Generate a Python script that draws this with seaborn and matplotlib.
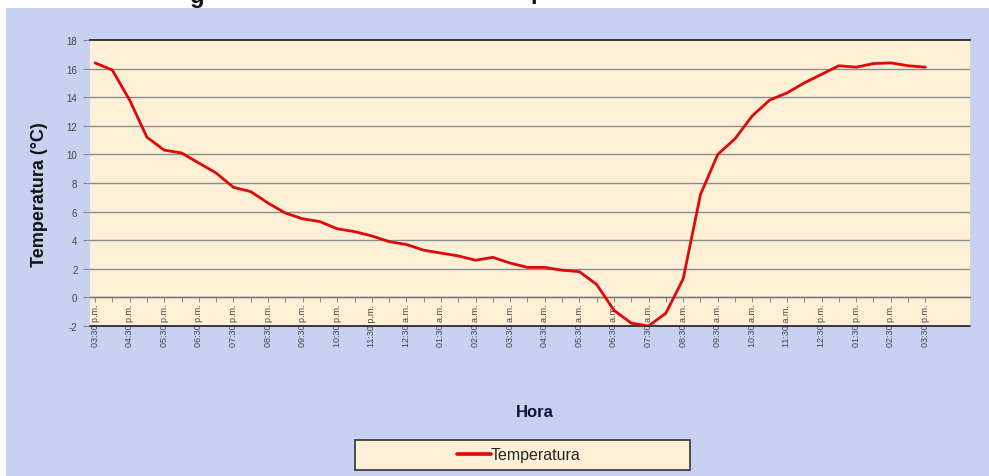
import numpy as np
import pandas as pd
import matplotlib
matplotlib.use("Agg")
import matplotlib.pyplot as plt
from matplotlib.patches import Rectangle
from matplotlib.lines import Line2D
import seaborn as sns

# ---- data ----
hour_labels = ["03:30 p.m.", "04:30 p.m.", "05:30 p.m.", "06:30 p.m.", "07:30 p.m.",
               "08:30 p.m.", "09:30 p.m.", "10:30 p.m.", "11:30 p.m.", "12:30 a.m.",
               "01:30 a.m.", "02:30 a.m.", "03:30 a.m.", "04:30 a.m.", "05:30 a.m.",
               "06:30 a.m.", "07:30 a.m.", "08:30 a.m.", "09:30 a.m.", "10:30 a.m.",
               "11:30 a.m.", "12:30 p.m.", "01:30 p.m.", "02:30 p.m.", "03:30 p.m."]
# half-hourly readings (hours elapsed since 03:30 p.m.)
elapsed_hours = [0.0, 0.5, 1.0, 1.5, 2.0, 2.5, 3.0, 3.5, 4.0, 4.5, 5.0, 5.5, 6.0, 6.5,
                 7.0, 7.5, 8.0, 8.5, 9.0, 9.5, 10.0, 10.5, 11.0, 11.5, 12.0, 12.5,
                 13.0, 13.5, 14.0, 14.5, 15.0, 15.5, 16.0, 16.5, 17.0, 17.5, 18.0,
                 18.5, 19.0, 19.5, 20.0, 20.5, 21.0, 21.5, 22.0, 22.5, 23.0, 23.5, 24.0]
temperatura = [16.4, 15.9, 13.8, 11.2, 10.3, 10.1, 9.4, 8.7, 7.7, 7.4, 6.6, 5.9, 5.5,
               5.3, 4.8, 4.6, 4.3, 3.9, 3.7, 3.3, 3.1, 2.9, 2.6, 2.8, 2.4, 2.1, 2.1,
               1.9, 1.8, 0.9, -0.9, -1.8, -2.0, -1.1, 1.3, 7.2, 10.0, 11.1, 12.7,
               13.8, 14.3, 15.0, 15.6, 16.2, 16.1, 16.35, 16.4, 16.2, 16.1]
y_ticks = [-2, 0, 2, 4, 6, 8, 10, 12, 14, 16, 18]

df = pd.DataFrame({"Hora": elapsed_hours, "Temperatura": temperatura})

sns.set_style("white")
plt.rcParams["font.family"] = ["Liberation Sans", "DejaVu Sans"]

W, H = 989, 477
fig = plt.figure(figsize=(W / 100, H / 100), dpi=100, facecolor="white")

# textured-looking background panel
bg = Rectangle((6 / W, 0), 1 - 6 / W, 1 - 9 / H, transform=fig.transFigure,
               facecolor="#c9d1f1", edgecolor="none", zorder=-10)
fig.patches.append(bg)

L, R, T, B = 90, 970, 41, 327
ax = fig.add_axes([L / W, 1 - B / H, (R - L) / W, (B - T) / H])
ax.set_facecolor("#fdf0d6")

sns.lineplot(data=df, x="Hora", y="Temperatura", ax=ax, color="#e00808",
             linewidth=2.0, legend=False, zorder=5)

ax.set_ylim(-2, 18)
ax.set_xlim(-0.145, 25.29)
ax.set_yticks(y_ticks)
ax.set_yticklabels([str(v) for v in y_ticks])
for v in y_ticks[1:-1]:
    ax.axhline(v, color="#8c8c8c", lw=1.0, zorder=1)
ax.axhline(-2, color="#2a2a2a", lw=1.3, zorder=2, clip_on=False)

ax.set_xticks(np.arange(len(hour_labels)))
ax.set_xticklabels(hour_labels)
ax.set_xticks(np.array(elapsed_hours), minor=True)
ax.tick_params(axis="x", which="both", direction="out", length=3.5, width=0.8,
               color="#8c8c8c", pad=1)
ax.tick_params(axis="x", which="major", labelrotation=90, labelsize=6.5,
               labelcolor="#444444")
ax.tick_params(axis="y", direction="out", length=5, width=0.8, color="#8c8c8c",
               pad=4, labelsize=7, labelcolor="#444444")
ax.yaxis.set_ticks_position("left")
ax.xaxis.set_ticks_position("bottom")

for s in ["left", "right"]:
    ax.spines[s].set_visible(False)
ax.spines["top"].set_color("#2a2a2a")
ax.spines["top"].set_linewidth(1.3)
ax.spines["bottom"].set_position(("data", 0))
ax.spines["bottom"].set_color("#7a7a7a")
ax.spines["bottom"].set_linewidth(1.0)
ax.set_xlabel("")
ax.set_ylabel("")

fig.text(40 / W, 1 - 195 / H, "Temperatura (°C)", rotation=90, ha="center",
         va="center", fontsize=13, fontweight="bold", color="#111111")
fig.text(535 / W, 1 - 413 / H, "Hora", ha="center", va="center",
         fontsize=12, fontweight="bold", color="#111133")

# cut-off title fragments at the top edge
fig.text(197 / W, 1 - 3 / H, "g", ha="center", va="baseline", fontsize=17,
         fontweight="bold", color="#111111")
fig.text(538 / W, 1 + 1 / H, "p", ha="center", va="baseline", fontsize=17,
         fontweight="bold", color="#111111")

# legend box
lb = Rectangle((355 / W, 1 - 471 / H), 335 / W, 30 / H, transform=fig.transFigure,
               facecolor="#fdf0d6", edgecolor="#333333", lw=1.2, zorder=1)
fig.patches.append(lb)
handle = Line2D([], [], color="#e00808", lw=2.6)
fig.legend([handle], ["Temperatura"], loc="center", frameon=False,
           bbox_to_anchor=(519 / W, 1 - 456 / H), fontsize=11.5,
           handlelength=2.1, handletextpad=0.0)

fig.savefig("out.png", dpi=100, facecolor=fig.get_facecolor())
